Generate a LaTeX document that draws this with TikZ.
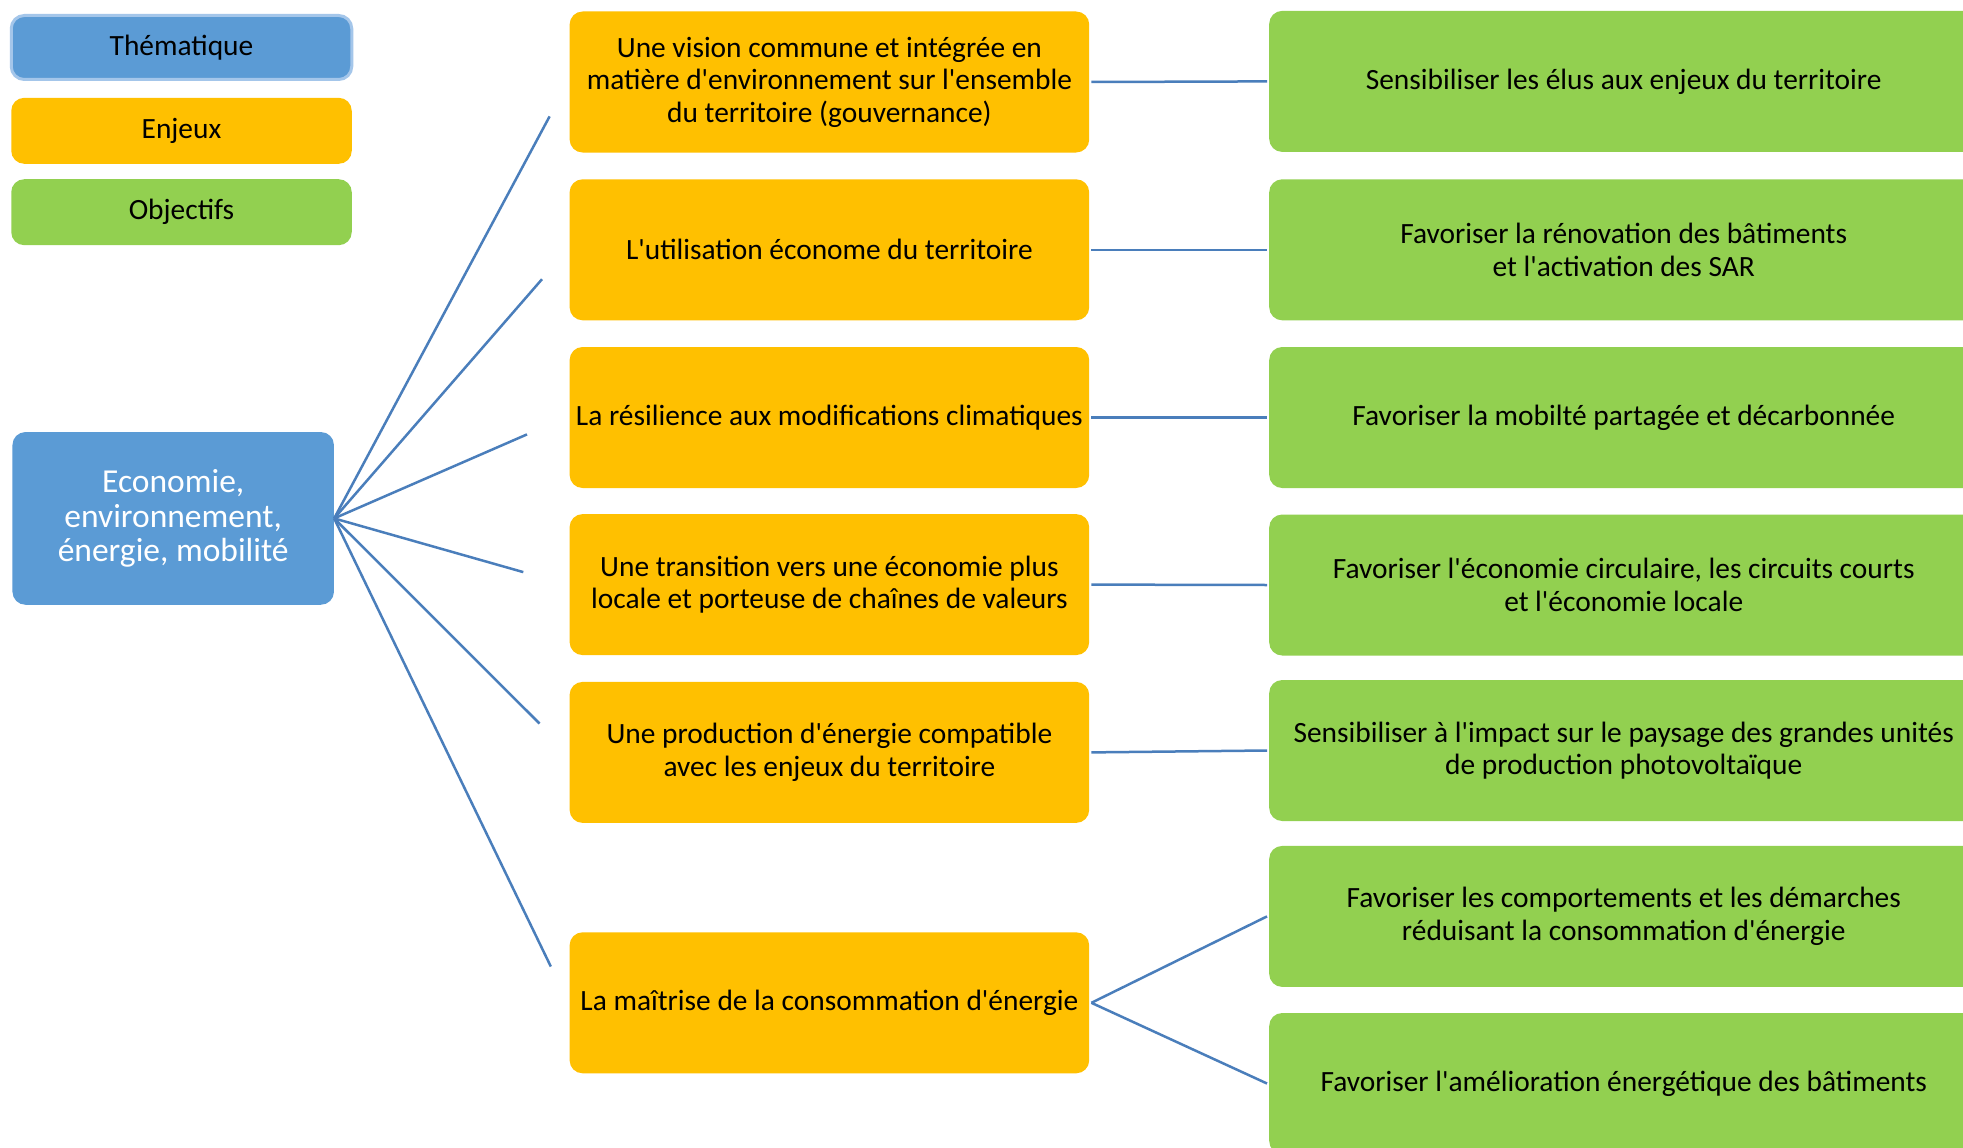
\documentclass[tikz,border=0pt]{standalone}
\usepackage{fontspec}
\setmainfont{Carlito}[Ligatures=TeXOff]
\definecolor{tblue}{HTML}{5B9BD5}
\definecolor{torange}{HTML}{FFC000}
\definecolor{tgreen}{HTML}{92D050}
\definecolor{tline}{HTML}{4A7EBB}
\definecolor{tborder}{HTML}{A4C6EA}
\begin{document}
\begin{tikzpicture}[x=1pt,y=-1pt,
  box/.style={rounded corners=13pt, inner sep=0pt, align=center, text=black,
    font=\fontsize{29.4}{32.5}\selectfont},
  legend/.style={box, minimum width=340.5pt, minimum height=66pt},
  enjeu/.style={box, fill=torange, minimum width=519.6pt, minimum height=141pt},
  objectif/.style={box, fill=tgreen, minimum width=709pt, minimum height=141pt},
  conn/.style={draw=tline, line width=2.5pt}]
\clip (0,0) rectangle (1963,1148);
\fill[white] (0,0) rectangle (1963,1148);

% legend
\node[legend, fill=tblue, draw=tborder, line width=3pt, minimum height=64pt] (lt) at (181.5,47.5) {Thématique};
\node[legend, fill=torange] (le) at (181.5,130.8) {Enjeux};
\node[legend, fill=tgreen] (lo) at (181.5,212.2) {Objectifs};

% central theme
\node[box, fill=tblue, text=white, minimum width=321.5pt, minimum height=172.7pt,
  font=\fontsize{33.5}{34.4}\selectfont] (c) at (173.2,518.4)
  {Economie,\\environnement,\\énergie, mobilité};

% enjeux
\node[enjeu] (e1) at (829.4,82) {Une vision commune et intégrée en\\matière d'environnement sur l'ensemble\\du territoire (gouvernance)};
\node[enjeu] (e2) at (829.4,249.8) {L'utilisation économe du territoire};
\node[enjeu] (e3) at (829.4,417.5) {La résilience aux modifications climatiques};
\node[enjeu] (e4) at (829.4,584.6) {Une transition vers une économie plus\\locale et porteuse de chaînes de valeurs};
\node[enjeu] (e5) at (829.4,752.4) {Une production d'énergie compatible\\avec les enjeux du territoire};
\node[enjeu] (e6) at (829.4,1002.8) {La maîtrise de la consommation d'énergie};

% objectifs
\node[objectif] (o1) at (1623.7,81.4) {Sensibiliser les élus aux enjeux du territoire};
\node[objectif] (o2) at (1623.7,249.8) {Favoriser la rénovation des bâtiments\\et l'activation des SAR};
\node[objectif] (o3) at (1623.7,417.5) {Favoriser la mobilté partagée et décarbonnée};
\node[objectif] (o4) at (1623.7,585) {Favoriser l'économie circulaire, les circuits courts\\et l'économie locale};
\node[objectif] (o5) at (1623.7,750.5) {Sensibiliser à l'impact sur le paysage des grandes unités\\de production photovoltaïque};
\node[objectif] (o6) at (1623.7,916.4) {Favoriser les comportements et les démarches\\réduisant la consommation d'énergie};
\node[objectif] (o7) at (1623.7,1083.5) {Favoriser l'amélioration énergétique des bâtiments};

% free ends of the fan
\coordinate (h1) at (549.6,116.4);
\coordinate (h2) at (542,279.2);
\coordinate (h3) at (527,434.4);
\coordinate (h4) at (523.3,572.1);
\coordinate (h5) at (539.6,723.6);
\coordinate (h6) at (550.8,966.5);

\foreach \i in {1,...,6} \draw[conn] (c.east) -- (h\i);

\draw[conn] ([xshift=2pt]e1.east) -- ([xshift=-2pt]o1.west);
\draw[conn] ([xshift=2pt]e2.east) -- ([xshift=-2pt]o2.west);
\draw[conn] ([xshift=2pt]e3.east) -- ([xshift=-2pt]o3.west);
\draw[conn] ([xshift=2pt]e4.east) -- ([xshift=-2pt]o4.west);
\draw[conn] ([xshift=2pt]e5.east) -- ([xshift=-2pt]o5.west);
\draw[conn] ([xshift=2pt]e6.east) -- ([xshift=-2pt]o6.west);
\draw[conn] ([xshift=2pt]e6.east) -- ([xshift=-2pt]o7.west);
\end{tikzpicture}
\end{document}
